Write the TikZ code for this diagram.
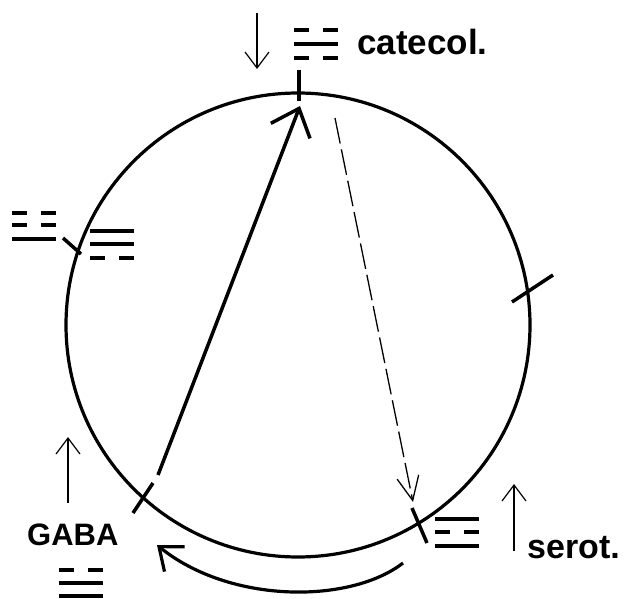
\documentclass[tikz,border=0pt]{standalone}
\usepackage{fontspec}
\newfontfamily\labfont{Liberation Sans}
\usetikzlibrary{arrows.meta}
\tikzset{
  ring/.style={line width=3.2pt},
  tickmark/.style={line width=3.5pt},
  tri/.style={line width=4pt},
  thinarrow/.style={line width=1.2pt,-{Straight Barb[length=16pt,width=24pt,line width=1.2pt]}},
  bigarrow/.style={line width=3.5pt,-{Straight Barb[length=24pt,width=42pt,line width=3.5pt]}},
  arcarrow/.style={line width=3.2pt,-{Straight Barb[length=20pt,width=32pt,line width=3.2pt]}},
  dasharrow/.style={line width=1.3pt,dash pattern=on 26pt off 6pt,-{Straight Barb[length=24pt,width=22pt,line width=1.3pt]}},
  lab/.style={inner sep=0pt,anchor=base west,font=\labfont\bfseries}
}
\newcommand\rowS[2]{\draw[tri] (#1,#2) -- ++(44,0);}
\newcommand\rowB[2]{\draw[tri] (#1,#2) -- ++(15,0) (#1+29,#2) -- ++(15,0);}
\begin{document}
\begin{tikzpicture}[x=1pt,y=-1pt]
\useasboundingbox (0,0) rectangle (627,599);
% circle
\coordinate (c) at (298,325);
\draw[ring] (c) circle[radius=232];
% ticks on the circle
\draw[tickmark] (299,70) -- (299,101);
\draw[tickmark] (63,238) -- (81,254);
\draw[tickmark] (512,302) -- (553,275);
\draw[tickmark] (412,508) -- (427,543);
\draw[tickmark] (133,513) -- (153,483);
% solid arrow
\coordinate (sa) at (158,475);
\coordinate (sb) at (300,106);
\draw[bigarrow] (sa) -- (sb);
% dashed arrow
\coordinate (da) at (335,118);
\coordinate (db) at (413,502);
\draw[dasharrow] (da) -- (db);
% bottom arc arrow
\coordinate (aa) at (403,563);
\coordinate (ab) at (157,545);
\draw[arcarrow] (aa) .. controls (350,604) and (230,604) .. (ab);
% small label arrows
\coordinate (t1) at (257,13);
\coordinate (t2) at (257,69);
\draw[thinarrow] (t1) -- (t2);
\coordinate (g1) at (68,503);
\coordinate (g2) at (68,437);
\draw[thinarrow] (g1) -- (g2);
\coordinate (s1) at (514,551);
\coordinate (s2) at (514,484);
\draw[thinarrow] (s1) -- (s2);
% trigrams
\rowB{294}{30}\rowS{294}{44}\rowB{294}{58}
\rowB{12}{213}\rowB{12}{225}\rowS{12}{239}
\rowS{90}{231}\rowS{90}{244}\rowB{90}{258}
\rowB{59}{570}\rowS{59}{583}\rowS{59}{596}
\rowS{435}{519}\rowB{435}{532}\rowS{435}{546}
% labels
\node[lab,font=\labfont\bfseries\fontsize{35}{35}\selectfont] (cat) at (357,55) {catecol.};
\node[lab,font=\labfont\bfseries\fontsize{31}{31}\selectfont] (gaba) at (27,545) {GABA};
\node[lab,font=\labfont\bfseries\fontsize{34}{34}\selectfont] (ser) at (527,558) {serot.};
\end{tikzpicture}
\end{document}
